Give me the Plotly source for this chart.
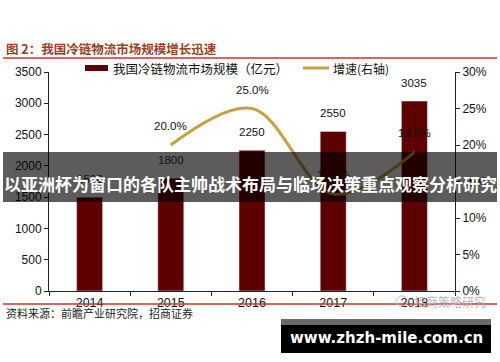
import plotly.graph_objects as go

# ---- data ----
years = ["2014", "2015", "2016", "2017", "2018"]
market_size = [1500, 1800, 2250, 2550, 3035]
growth_years = ["2015", "2016", "2017", "2018"]
growth = [0.200, 0.250, 0.133, 0.190]
growth_labels = ["20.0%", "25.0%", "13.3%", "19.0%"]

title_text = "图 2：我国冷链物流市场规模增长迅速"
bar_name = "我国冷链物流市场规模（亿元）"
line_name = "增速(右轴)"
source_text = "资料来源：前瞻产业研究院，招商证券"
overlay_text = "以亚洲杯为窗口的各队主帅战术布局与临场决策重点观察分析研究"
site_text = "www.zhzh-mile.com.cn"
watermark_text = "招商策略研究"

W, H = 500, 362
L, R, T, B = 49, 45, 72, 71
PW, PH = W - L - R, H - T - B


def px(x):
    return (x - L) / PW


def py(y):
    return (H - B - y) / PH


BAR_COLOR = "#5E0000"
LINE_COLOR = "#C9A040"
RED = "#C0392B"
CJK = "Noto Sans CJK SC"
NUM = "Liberation Sans, Arial"

fig = go.Figure()
fig.add_trace(go.Bar(x=years, y=market_size, marker_color=BAR_COLOR, width=0.32,
                     name=bar_name, showlegend=False))
fig.add_trace(go.Scatter(x=growth_years, y=growth, yaxis="y2", mode="lines",
                         line=dict(color=LINE_COLOR, width=3, shape="spline", smoothing=1.0),
                         name=line_name, showlegend=False))

ann = []
for x, v in zip(years, market_size):
    ann.append(dict(x=years.index(x), y=v, xref="x", yref="y", text=str(v), showarrow=False,
                    yanchor="bottom", yshift=10, font=dict(family=NUM, size=11.5, color="#111")))
for x, v, t in zip(growth_years, growth, growth_labels):
    ann.append(dict(x=years.index(x), y=v, xref="x", yref="y2", text=t, showarrow=False,
                    yanchor="bottom", yshift=11, font=dict(family=NUM, size=11.5, color="#111")))

# title, legend, source
ann.append(dict(x=px(4), y=py(49), xref="paper", yref="paper", text="<b>" + title_text + "</b>",
                showarrow=False, xanchor="left", yanchor="middle",
                font=dict(family=CJK, size=12.5, color="#A0401C")))
ann.append(dict(x=px(111), y=py(68), xref="paper", yref="paper", text=bar_name,
                showarrow=False, xanchor="left", yanchor="middle",
                font=dict(family=CJK, size=12.5, color="#111")))
ann.append(dict(x=px(331), y=py(68), xref="paper", yref="paper", text=line_name,
                showarrow=False, xanchor="left", yanchor="middle",
                font=dict(family=CJK, size=12, color="#111")))
ann.append(dict(x=px(4), y=py(313), xref="paper", yref="paper", text=source_text,
                showarrow=False, xanchor="left", yanchor="middle",
                font=dict(family=CJK, size=11, color="#222")))
ann.append(dict(x=px(412), y=py(301), xref="paper", yref="paper", text=watermark_text,
                showarrow=False, xanchor="left", yanchor="middle",
                font=dict(family=CJK, size=12, color="#B8B8B8")))
# overlays
ann.append(dict(x=px(250), y=py(183), xref="paper", yref="paper", text="<b>" + overlay_text + "</b>",
                showarrow=False, xanchor="center", yanchor="middle",
                font=dict(family=CJK, size=17, color="#FFFFFF")))
ann.append(dict(x=px(386), y=py(338), xref="paper", yref="paper", text="<b>" + site_text + "</b>",
                showarrow=False, xanchor="center", yanchor="middle",
                font=dict(family="DejaVu Sans", size=15, color="#FFFFFF")))

shapes = [
    dict(type="line", xref="paper", yref="paper", x0=px(3), x1=px(497), y0=py(58), y1=py(58),
         line=dict(color=RED, width=1.5)),
    dict(type="line", xref="paper", yref="paper", x0=px(3), x1=px(497), y0=py(304), y1=py(304),
         line=dict(color=RED, width=1.5)),
    dict(type="rect", xref="paper", yref="paper", x0=px(85), x1=px(108), y0=py(71), y1=py(65),
         fillcolor=BAR_COLOR, line=dict(width=0)),
    dict(type="line", xref="paper", yref="paper", x0=px(303), x1=px(329), y0=py(68), y1=py(68),
         line=dict(color=LINE_COLOR, width=3)),
    dict(type="circle", xref="paper", yref="paper", x0=px(396), x1=px(408), y0=py(306), y1=py(296),
         line=dict(color="#C8C8C8", width=1), fillcolor="rgba(0,0,0,0)"),
    dict(type="rect", xref="paper", yref="paper", x0=px(3), x1=px(497), y0=py(202), y1=py(152),
         fillcolor="rgba(0,0,0,0.64)", line=dict(width=0), layer="above"),
    dict(type="rect", xref="paper", yref="paper", x0=px(281), x1=px(491), y0=py(325), y1=py(319),
         fillcolor="#6A6A6A", line=dict(width=0), layer="above"),
    dict(type="rect", xref="paper", yref="paper", x0=px(281), x1=px(491), y0=py(353), y1=py(325),
         fillcolor="#000000", line=dict(width=0), layer="above"),
]

fig.update_layout(
    width=W, height=H,
    margin=dict(l=L, r=R, t=T, b=B, autoexpand=False),
    paper_bgcolor="white", plot_bgcolor="white",
    showlegend=False,
    xaxis=dict(type="category", categoryorder="array", categoryarray=years,
               range=[-0.5, len(years) - 0.5], showline=True, linecolor="#222", linewidth=1,
               ticks="outside", tickson="boundaries", ticklen=4, tickcolor="#222",
               tickfont=dict(family=NUM, size=12.5, color="#111"), showgrid=False),
    yaxis=dict(range=[0, 3500], dtick=500, showline=True, linecolor="#222", linewidth=1,
               ticks="outside", ticklen=4, tickcolor="#222", showgrid=False, zeroline=False,
               tickfont=dict(family=NUM, size=12, color="#111")),
    yaxis2=dict(range=[0, 0.30], dtick=0.05, tickformat=".0%", overlaying="y", side="right",
                showline=True, linecolor="#222", linewidth=1, ticks="outside", ticklen=4,
                tickcolor="#222", showgrid=False, zeroline=False,
                tickfont=dict(family=NUM, size=12, color="#111")),
    annotations=ann,
    shapes=shapes,
)

fig.write_html("out.html")
